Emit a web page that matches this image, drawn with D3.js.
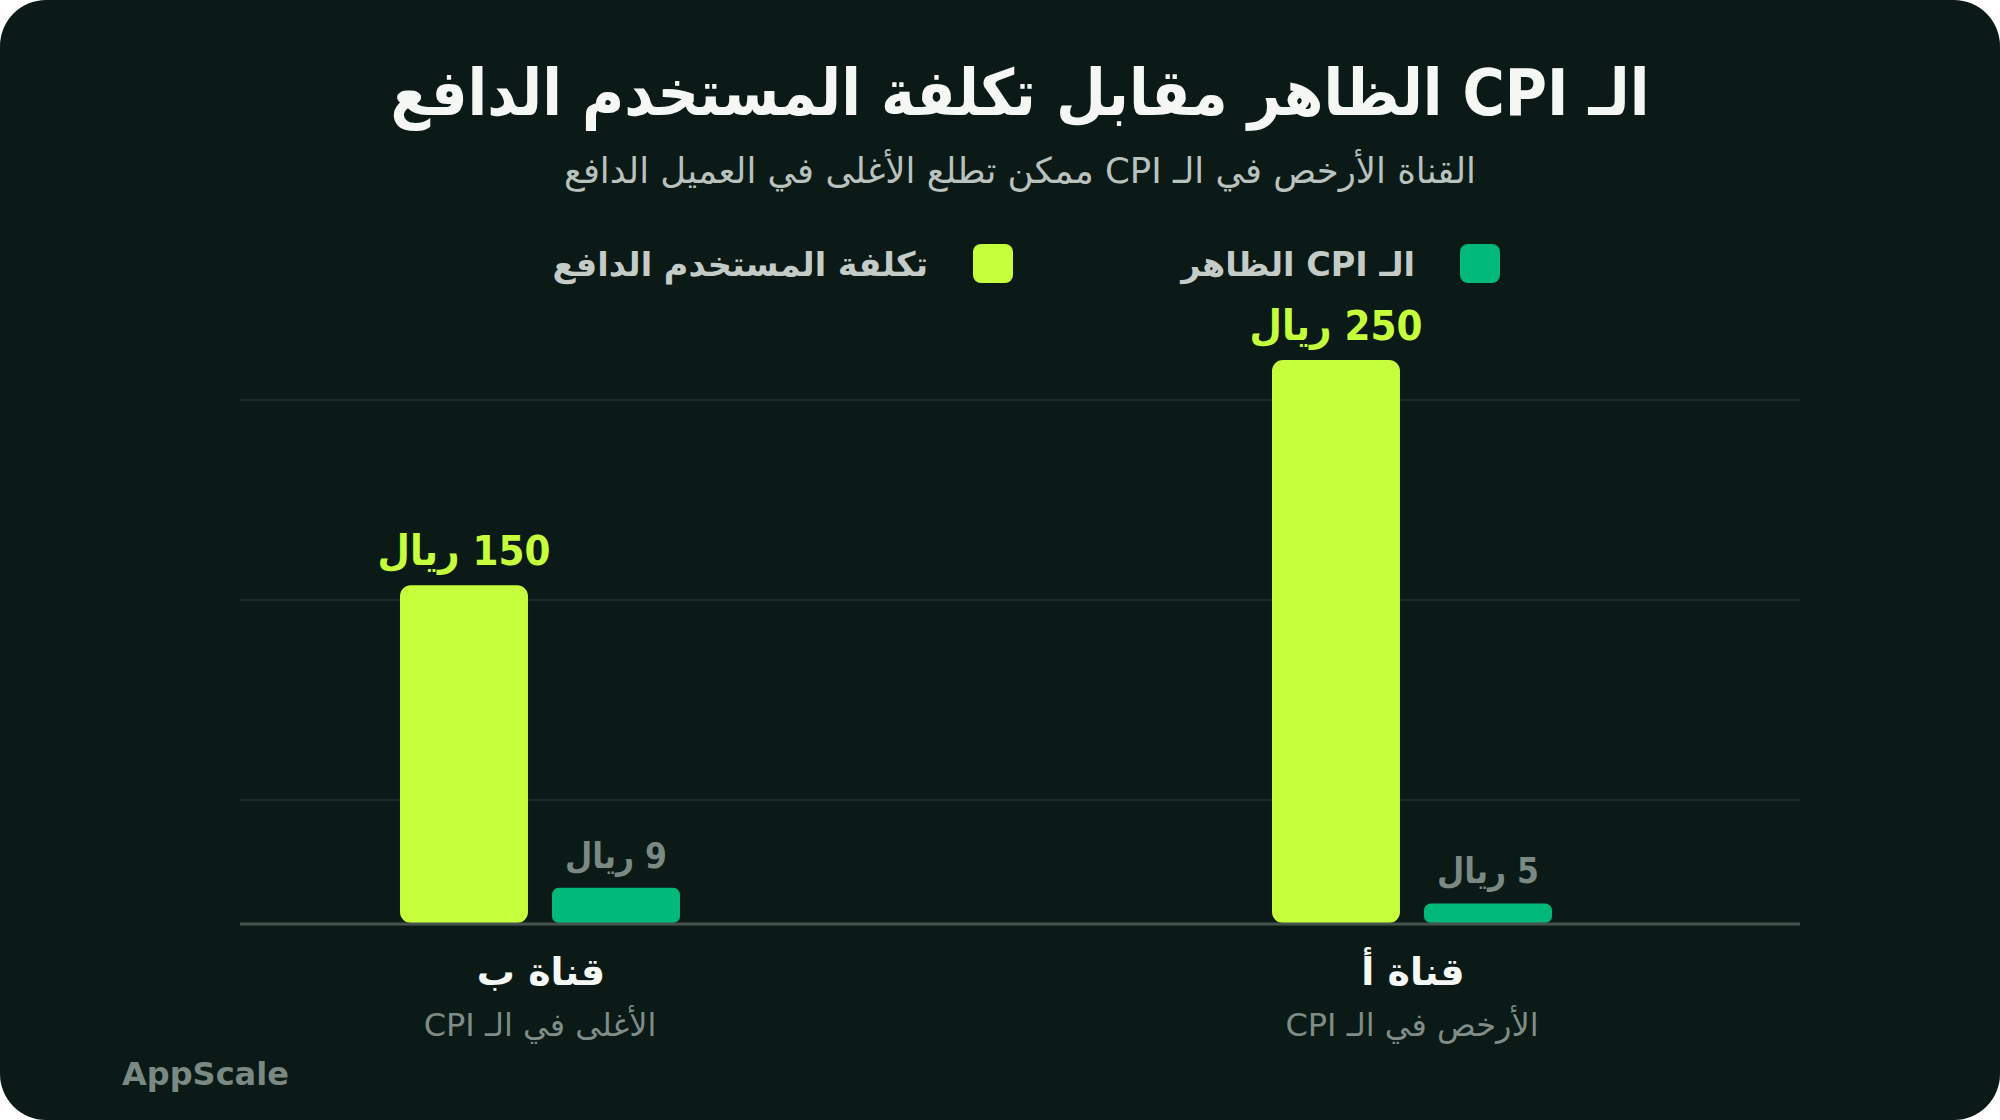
<!DOCTYPE html>
<html lang="ar">
<head>
    <meta charset="UTF-8">
    <title>CPI vs paying user cost</title>
    <script src="https://d3js.org/d3.v7.min.js"></script>
    <style>
        html, body { margin: 0; padding: 0; background: #ffffff; }
        svg { display: block; }
        text { font-family: "DejaVu Sans", sans-serif; }
        .cond { font-family: "DejaVu Sans Condensed", "DejaVu Sans", sans-serif; font-stretch: condensed; }
    </style>
</head>
<body>
    <div id="chart"></div>
    <script>
        // Data
        const channels = ["قناة أ", "قناة ب"];
        const channelNotes = ["الأرخص في الـ CPI", "الأغلى في الـ CPI"];
        const cpiValues = [5, 9];
        const costValues = [250, 150];
        const seriesKeys = ["cost", "cpi"];
        const seriesNames = ["تكلفة المستخدم الدافع", "الـ CPI الظاهر"];
        const gridLevels = [1, 2, 3];

        const width = 2000;
        const height = 1120;
        const bg = "#0b1a16";
        const lime = "#c6ff3c";
        const green = "#00b87a";

        const svg = d3.select("#chart")
            .append("svg")
            .attr("width", width)
            .attr("height", height);

        // Card
        svg.append("rect")
            .attr("width", width)
            .attr("height", height)
            .attr("rx", 46)
            .attr("fill", bg);

        // Titles
        svg.append("text")
            .attr("class", "cond")
            .attr("x", 1020)
            .attr("y", 115)
            .attr("direction", "rtl")
            .attr("text-anchor", "middle")
            .attr("font-size", 64)
            .attr("font-weight", "bold")
            .attr("fill", "#f4f7f4")
            .text("الـ CPI الظاهر مقابل تكلفة المستخدم الدافع");

        svg.append("text")
            .attr("x", 1020)
            .attr("y", 183)
            .attr("direction", "rtl")
            .attr("text-anchor", "middle")
            .attr("font-size", 35.5)
            .attr("fill", "#b9c2be")
            .text("القناة الأرخص في الـ CPI ممكن تطلع الأغلى في العميل الدافع");

        // Legend (right to left)
        const legendItems = [
            { name: seriesNames[1], color: green, right: 1500 },
            { name: seriesNames[0], color: lime, right: 1013 }
        ];
        const legend = svg.append("g")
            .selectAll("g")
            .data(legendItems)
            .join("g");
        legend.append("rect")
            .attr("x", d => d.right - 40)
            .attr("y", 244)
            .attr("width", 40)
            .attr("height", 39)
            .attr("rx", 8)
            .attr("fill", d => d.color);
        legend.append("text")
            .attr("x", d => d.right - 85)
            .attr("y", 276)
            .attr("direction", "rtl")
            .attr("text-anchor", "start")
            .attr("font-size", 33.5)
            .attr("font-weight", "bold")
            .attr("fill", "#c5ccc8")
            .text(d => d.name);

        // Scales
        const x0 = d3.scalePoint()
            .domain(channels)
            .range([1412, 540]);

        const x1 = d3.scaleBand()
            .domain(seriesKeys)
            .range([-140, 140])
            .paddingInner(0.158);

        const baseY = 923;
        const yCost = d3.scaleLinear()
            .domain([0, 250])
            .range([baseY, 360]);

        // the small CPI bars are drawn on their own, stretched scale
        const yCpi = d3.scaleLinear()
            .domain([0, 144])
            .range([baseY, 360]);

        const yGrid = d3.scaleLinear()
            .domain([1, 3])
            .range([800, 400]);

        // Gridlines
        svg.append("g")
            .selectAll("line")
            .data(gridLevels)
            .join("line")
            .attr("x1", 240)
            .attr("x2", 1800)
            .attr("y1", d => yGrid(d))
            .attr("y2", d => yGrid(d))
            .attr("stroke", "#1a2a25")
            .attr("stroke-width", 2);

        const rows = channels.map((c, i) => ({
            channel: c,
            note: channelNotes[i],
            cost: costValues[i],
            cpi: cpiValues[i]
        }));

        const bars = [];
        rows.forEach(r => {
            bars.push({ channel: r.channel, key: "cost", value: r.cost, y: yCost(r.cost) });
            bars.push({ channel: r.channel, key: "cpi", value: r.cpi, y: yCpi(r.cpi) });
        });

        // Bars
        svg.append("g")
            .selectAll("rect")
            .data(bars)
            .join("rect")
            .attr("x", d => x0(d.channel) + x1(d.key))
            .attr("y", d => d.y)
            .attr("width", x1.bandwidth())
            .attr("height", d => baseY - d.y)
            .attr("rx", d => d.key === "cost" ? 11 : 7)
            .attr("fill", d => d.key === "cost" ? lime : green);

        // Value labels
        svg.append("g")
            .selectAll("text")
            .data(bars)
            .join("text")
            .attr("class", "cond")
            .attr("x", d => x0(d.channel) + x1(d.key) + x1.bandwidth() / 2)
            .attr("y", d => d.y - 20)
            .attr("direction", "rtl")
            .attr("text-anchor", "middle")
            .attr("font-size", d => d.key === "cost" ? 41.5 : 35)
            .attr("font-weight", "bold")
            .attr("fill", d => d.key === "cost" ? lime : "#7b8984")
            .text(d => d.value + " ريال");

        // Baseline
        svg.append("line")
            .attr("x1", 240)
            .attr("x2", 1800)
            .attr("y1", baseY + 1)
            .attr("y2", baseY + 1)
            .attr("stroke", "#46524e")
            .attr("stroke-width", 3);

        // Category labels
        const cat = svg.append("g")
            .selectAll("g")
            .data(rows)
            .join("g");
        cat.append("text")
            .attr("x", d => x0(d.channel) + 1)
            .attr("y", 985)
            .attr("direction", "rtl")
            .attr("text-anchor", "middle")
            .attr("font-size", 38)
            .attr("font-weight", "bold")
            .attr("fill", "#f4f7f4")
            .text(d => d.channel);
        cat.append("text")
            .attr("x", d => x0(d.channel))
            .attr("y", 1036)
            .attr("direction", "rtl")
            .attr("text-anchor", "middle")
            .attr("font-size", 32)
            .attr("fill", "#7f8c87")
            .text(d => d.note);

        // Brand
        svg.append("text")
            .attr("x", 122)
            .attr("y", 1085)
            .attr("font-size", 32)
            .attr("font-weight", "bold")
            .attr("fill", "#7b8984")
            .text("AppScale");
    </script>
</body>
</html>
